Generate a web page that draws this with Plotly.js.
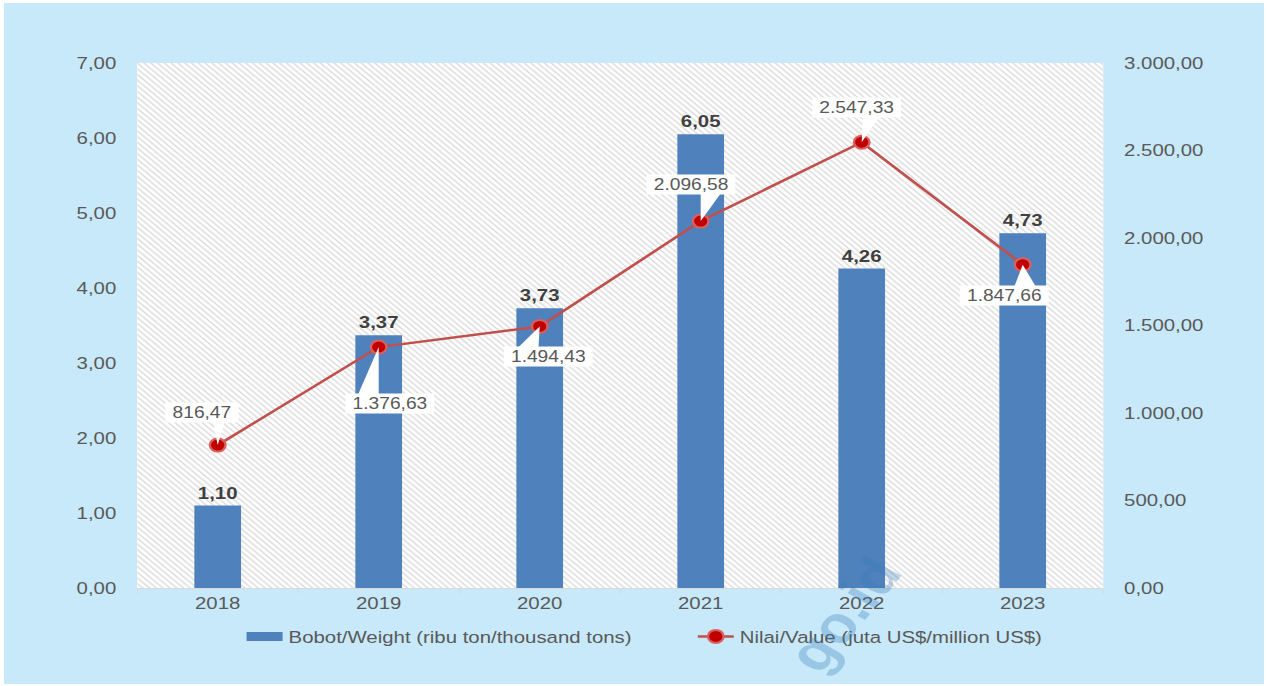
<!DOCTYPE html>
<html>
<head>
<meta charset="utf-8">
<script src="https://cdn.plot.ly/plotly-3.0.1.min.js"></script>
<style>
  html, body { margin: 0; padding: 0; background: #ffffff; width: 1267px; height: 686px; overflow: hidden; }
  #chart { position: absolute; left: 4px; top: 3px; width: 1050px; height: 681px; transform: scaleX(1.2); transform-origin: 0 0; }
</style>
</head>
<body>
<div id="chart"></div>
<script>
// ---- data ----
const years = ['2018', '2019', '2020', '2021', '2022', '2023'];
const weightThousandTons = [1.10, 3.37, 3.73, 6.05, 4.26, 4.73];
const valueMillionUSD = [816.47, 1376.63, 1494.43, 2096.58, 2547.33, 1847.66];
const weightName = 'Bobot/Weight (ribu ton/thousand tons)';
const valueName = 'Nilai/Value (juta US$/million US$)';

// ---- callout placement (pixel offsets from each point, styling only) ----
const calloutDx = [-13, 9, 7, -8, -4, -15];     // label centre, px right
const calloutDy = [-33, 56, 30, -37, -35, 31];  // label centre, px down
const wedgeLeft = [-4, -17, -18, 0, 1, -7];     // wedge base, px
const wedgeRight = [6, 0, -1, 17, 15, 11];
const BOX_HALF = 9;

function fmtId(n) {
  const parts = n.toFixed(2).split('.');
  const intPart = parts[0].replace(/\B(?=(\d{3})+(?!\d))/g, '.');
  return intPart + ',' + parts[1];
}

const FONT = 'Liberation Sans, Arial, sans-serif';
const GREY = '#595959';
const BAR_COLOR = '#4f81bd';
const NBSP = '\u00a0';

const traces = [
  { // hatched plot-area background
    type: 'bar', x: [0.5], y: [1], width: [1], xaxis: 'x', yaxis: 'y',
    marker: { color: '#ffffff', line: { width: 0 },
      pattern: { shape: '\\', fgcolor: '#dadada', bgcolor: '#ffffff', size: 4, solidity: 0.3 } },
    showlegend: false, hoverinfo: 'skip'
  },
  {
    type: 'bar', name: weightName, x: years, y: weightThousandTons,
    xaxis: 'x2', yaxis: 'y2', width: 0.29, showlegend: false,
    marker: { color: BAR_COLOR, line: { width: 0 } },
    texttemplate: '%{y:.2f}', textposition: 'outside',
    textfont: { family: FONT, size: 17, color: '#404040', weight: 'bold' },
    cliponaxis: false
  },
  { // legend swatch for the bars (wide rectangle like the original)
    type: 'scatter', mode: 'lines', name: weightName, x: [null], y: [null],
    xaxis: 'x2', yaxis: 'y2', line: { color: BAR_COLOR, width: 9 }, hoverinfo: 'skip'
  },
  {
    type: 'scatter', mode: 'lines+markers', name: valueName, x: years, y: valueMillionUSD,
    xaxis: 'x2', yaxis: 'y3',
    line: { color: '#c0504d', width: 2.5 },
    marker: { color: '#c00000', size: 13, line: { color: '#d9605c', width: 2 } },
    cliponaxis: false
  }
];

// callout pointer wedges (pixel-sized, anchored at each data point)
const shapes = years.map((yr, i) => {
  const dy = calloutDy[i];
  const baseY = dy < 0 ? (-dy - BOX_HALF) : -(dy - BOX_HALF);
  return {
    type: 'path', xref: 'x2', yref: 'y3',
    xsizemode: 'pixel', ysizemode: 'pixel',
    xanchor: i, yanchor: valueMillionUSD[i],
    path: 'M0,0 L' + wedgeLeft[i] + ',' + baseY + ' L' + wedgeRight[i] + ',' + baseY + ' Z',
    fillcolor: '#ffffff', line: { width: 0 }, layer: 'above'
  };
});

const annotations = years.map((yr, i) => ({
  x: i, y: valueMillionUSD[i], xref: 'x2', yref: 'y3',
  text: NBSP + fmtId(valueMillionUSD[i]) + NBSP,
  showarrow: false, xshift: calloutDx[i], yshift: -calloutDy[i],
  xanchor: 'center', yanchor: 'middle',
  bgcolor: '#ffffff', borderpad: 1,
  font: { family: FONT, size: 16, color: GREY }
}));

annotations.push({
  xref: 'paper', yref: 'paper', x: 0.732, y: -0.05, xanchor: 'center', yanchor: 'middle',
  text: 'go.id', showarrow: false, textangle: -56,
  font: { family: FONT, size: 52, color: 'rgba(55,125,185,0.32)', weight: 'bold' }
});

const tickFont = { family: FONT, size: 17, color: GREY };

const layout = {
  width: 1050, height: 681,
  paper_bgcolor: '#c8e9fa',
  plot_bgcolor: '#ffffff',
  separators: ',.',
  margin: { l: 111, r: 134, t: 60, b: 96, pad: 0 },
  barmode: 'overlay',
  showlegend: true,
  legend: {
    orientation: 'h', x: 0.107, xanchor: 'left', y: -0.093, yanchor: 'middle',
    font: { family: FONT, size: 17, color: GREY }, bgcolor: 'rgba(0,0,0,0)',
    itemwidth: 30, entrywidth: 331, entrywidthmode: 'pixels'
  },
  xaxis: { range: [0, 1], visible: false, fixedrange: true },
  yaxis: { range: [0, 1], visible: false, fixedrange: true },
  xaxis2: {
    overlaying: 'x', anchor: 'y2', side: 'bottom', type: 'category',
    range: [-0.5, 5.5], tickson: 'boundaries', ticks: 'outside', ticklen: 5,
    tickcolor: '#d9d9d9', showline: true, linecolor: '#d9d9d9', linewidth: 1,
    showgrid: false, zeroline: false, tickfont: tickFont
  },
  yaxis2: {
    overlaying: 'y', anchor: 'x2', side: 'left', range: [0, 7], dtick: 1, tick0: 0,
    tickformat: '.2f', showgrid: false, zeroline: false, showline: false,
    ticks: 'outside', ticklen: 13, tickcolor: 'rgba(0,0,0,0)', tickfont: tickFont
  },
  yaxis3: {
    overlaying: 'y', anchor: 'x2', side: 'right', range: [0, 3000], dtick: 500, tick0: 0,
    tickformat: ',.2f', showgrid: false, zeroline: false, showline: false,
    ticks: 'outside', ticklen: 13, tickcolor: 'rgba(0,0,0,0)', tickfont: tickFont
  },
  shapes: shapes,
  annotations: annotations
};

Plotly.newPlot('chart', traces, layout, { displayModeBar: false, staticPlot: true });
</script>
</body>
</html>
